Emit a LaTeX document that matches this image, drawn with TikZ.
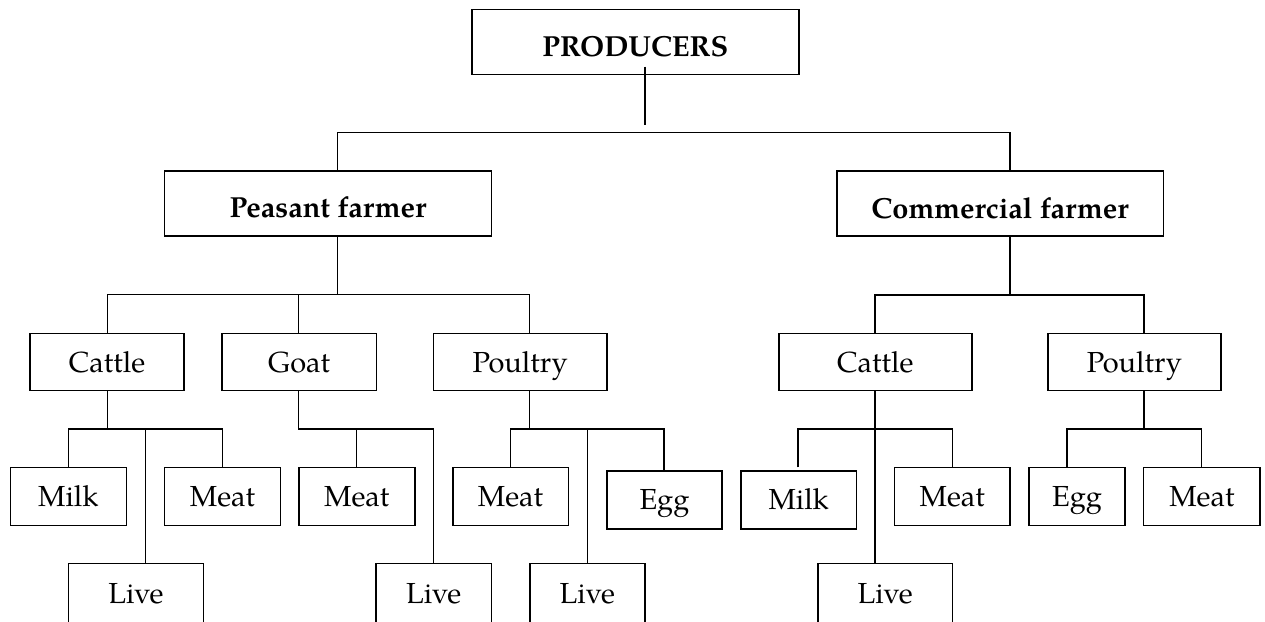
\documentclass[tikz,border=0pt]{standalone}
\usepackage{fontspec}
\setmainfont{TeX Gyre Pagella}
\begin{document}
\begin{tikzpicture}[x=1pt,y=-1pt,
  box/.style={draw, line width=1.5pt, rectangle, inner sep=0pt, align=center,
    font=\fontsize{29}{34}\selectfont, text height=25pt, text depth=5pt},
  headbox/.style={box, font=\fontsize{29}{34}\selectfont\bfseries, text height=34pt, text depth=5pt},
  conn/.style={line width=1.3pt}]
\useasboundingbox (0,0) rectangle (1265,621);

% level 0-1
\node[headbox, minimum width=327pt, minimum height=64.6pt] (prod) at (635.4,42) {PRODUCERS};
\node[headbox, minimum width=327pt, minimum height=64.7pt] (peas) at (328,203.4) {Peasant farmer};
\node[headbox, minimum width=326.6pt, minimum height=65pt] (comm) at (1000.1,203.5) {Commercial farmer};

% level 2
\node[box, minimum width=154.3pt, minimum height=57.4pt] (cat1) at (107,362) {Cattle};
\node[box, minimum width=154.3pt, minimum height=57.4pt] (goat) at (299.2,362) {Goat};
\node[box, minimum width=173.4pt, minimum height=57.4pt] (pou1) at (520.2,362) {Poultry};
\node[box, minimum width=192.9pt, minimum height=57.4pt] (cat2) at (875.3,362) {Cattle};
\node[box, minimum width=173.2pt, minimum height=57.4pt] (pou2) at (1134.4,362) {Poultry};

% level 3
\node[box, minimum width=116.3pt, minimum height=58pt] (milk1) at (68.4,496.7) {Milk};
\node[box, minimum width=115.9pt, minimum height=58pt] (meat1) at (222.5,496.7) {Meat};
\node[box, minimum width=115.9pt, minimum height=58pt] (meat2) at (356.8,496.7) {Meat};
\node[box, minimum width=115.5pt, minimum height=58pt] (meat3) at (510.5,496.7) {Meat};
\node[box, minimum width=115.1pt, minimum height=57.7pt] (egg1) at (664.5,499.9) {Egg};
\node[box, minimum width=115.6pt, minimum height=57.7pt] (milk2) at (798.7,499.9) {Milk};
\node[box, minimum width=115.6pt, minimum height=58pt] (meat4) at (952.2,496.7) {Meat};
\node[box, minimum width=96.2pt, minimum height=58pt] (egg2) at (1077,496.7) {Egg};
\node[box, minimum width=116.5pt, minimum height=58pt] (meat5) at (1201.9,496.7) {Meat};

% level 4
\node[box, minimum width=134.7pt, minimum height=59pt] (live1) at (136,593.2) {Live};
\node[box, minimum width=115.5pt, minimum height=59pt] (live2) at (433.7,593.2) {Live};
\node[box, minimum width=114.9pt, minimum height=59pt] (live3) at (587.3,593.2) {Live};
\node[box, minimum width=134.5pt, minimum height=59pt] (live4) at (885.2,593.2) {Live};

% junction coordinates
\coordinate (b0t) at (645,66.7);
\coordinate (b0) at (645,125);
\coordinate (b1l) at (337.6,132.5);
\coordinate (b1r) at (1010,132.5);
\coordinate (b2l) at (107.3,294.7);
\coordinate (b2m) at (298.8,294.7);
\coordinate (b2r) at (529.8,294.7);
\coordinate (b3l) at (875,295);
\coordinate (b3r) at (1144,295);
\coordinate (c1l) at (68.6,429);
\coordinate (c1p) at (107.3,429);
\coordinate (c1m) at (145.7,429);
\coordinate (c1r) at (222.4,429);
\coordinate (g1l) at (298.8,429);
\coordinate (g1m) at (356.7,429);
\coordinate (g1r) at (433.5,429);
\coordinate (p1l) at (510.2,429);
\coordinate (p1p) at (529.8,429);
\coordinate (p1m) at (587.8,429);
\coordinate (p1r) at (664,429);
\coordinate (c2l) at (798.1,429);
\coordinate (c2m) at (875,429);
\coordinate (c2r) at (952.4,429);
\coordinate (p2l) at (1067.1,429);
\coordinate (p2p) at (1144,429);
\coordinate (p2r) at (1201.6,429);

% connectors
\draw[conn] (b0t) -- (b0);
\draw[conn] (peas.north -| b1l) -- (b1l) -- (b1r) -- (comm.north -| b1r);

\draw[conn] (peas.south -| b1l) -- (b1l |- b2l);
\draw[conn] (cat1.north -| b2l) -- (b2l) -- (b2r) -- (pou1.north -| b2r);
\draw[conn] (b2m) -- (goat.north -| b2m);

\draw[conn] (comm.south -| b1r) -- (b1r |- b3l);
\draw[conn] (cat2.north -| b3l) -- (b3l) -- (b3r) -- (pou2.north -| b3r);

\draw[conn] (cat1.south -| c1p) -- (c1p);
\draw[conn] (milk1.north -| c1l) -- (c1l) -- (c1r) -- (meat1.north -| c1r);
\draw[conn] (c1m) -- (live1.north -| c1m);

\draw[conn] (goat.south -| g1l) -- (g1l) -- (g1r) -- (live2.north -| g1r);
\draw[conn] (g1m) -- (meat2.north -| g1m);

\draw[conn] (pou1.south -| p1p) -- (p1p);
\draw[conn] (meat3.north -| p1l) -- (p1l) -- (p1r) -- (egg1.north -| p1r);
\draw[conn] (p1m) -- (live3.north -| p1m);

\draw[conn] (cat2.south -| c2m) -- (live4.north -| c2m);
\draw[conn, shorten <=3pt] (milk2.north -| c2l) -- (c2l) -- (c2r) -- (meat4.north -| c2r);

\draw[conn] (pou2.south -| p2p) -- (p2p);
\draw[conn] (egg2.north -| p2l) -- (p2l) -- (p2r) -- (meat5.north -| p2r);
\end{tikzpicture}
\end{document}
